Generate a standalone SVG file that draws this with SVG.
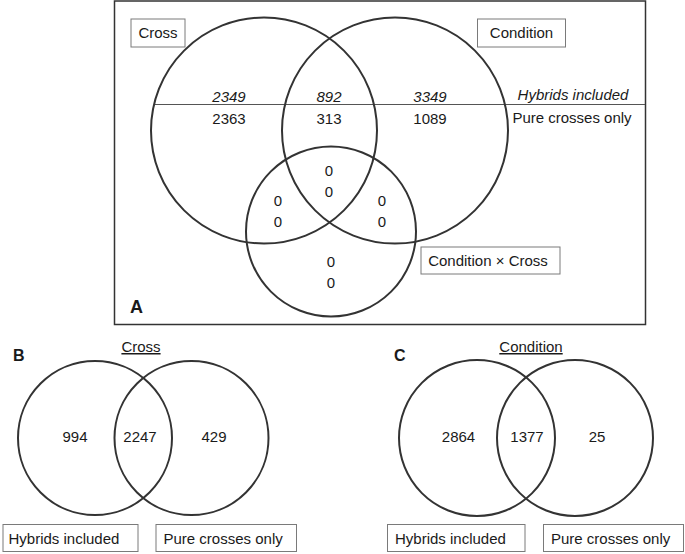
<svg xmlns="http://www.w3.org/2000/svg" width="685" height="554" viewBox="0 0 685 554">
<style>
text{font-family:"Liberation Sans",Arial,sans-serif;font-size:15px;fill:#1a1a1a}
.c{fill:none;stroke:#333;stroke-width:2}
.box{fill:#fff;stroke:#7a7a7a;stroke-width:1}
.m{text-anchor:middle}
.i{font-style:italic}
.lab{font-weight:bold;font-size:18px}
.lab2{font-weight:bold;font-size:16px}
.u{text-decoration:underline}
</style>
<rect width="685" height="554" fill="#fff"/>
<g id="panelA">
<rect x="114.5" y="1" width="531" height="323.5" fill="none" stroke="#333" stroke-width="1.5"/>
<g id="connectors">
<line x1="154" y1="104.5" x2="645" y2="104.5" stroke="#555" stroke-width="1"/>
</g>
<g id="circleCross"><circle class="c" cx="264" cy="130.5" r="113"/></g>
<g id="circleCondition"><circle class="c" cx="395" cy="130.5" r="113"/></g>
<g id="circleInteraction"><circle class="c" cx="331" cy="231.5" r="85"/></g>
<g id="labelCross"><rect class="box" x="131" y="19" width="54" height="28"/><text class="m" x="158" y="38">Cross</text></g>
<g id="labelCondition"><rect class="box" x="477.5" y="19" width="88" height="28"/><text class="m" x="521.5" y="38">Condition</text></g>
<g id="labelInteraction"><rect class="box" x="421" y="247" width="139" height="27"/><text class="m" x="488" y="266">Condition × Cross</text></g>
<g id="legendA">
<text class="m i" x="573" y="100">Hybrids included</text>
<text class="m" x="572" y="123">Pure crosses only</text>
</g>
<g id="countsA">
<text class="m i" x="229" y="102">2349</text>
<text class="m" x="229" y="123.5">2363</text>
<text class="m i" x="329" y="102">892</text>
<text class="m" x="329" y="123.5">313</text>
<text class="m i" x="430" y="102">3349</text>
<text class="m" x="430" y="123.5">1089</text>
<text class="m" x="329" y="176">0</text>
<text class="m" x="329" y="196.5">0</text>
<text class="m" x="278" y="206">0</text>
<text class="m" x="278" y="226.5">0</text>
<text class="m" x="382" y="206">0</text>
<text class="m" x="382" y="226.5">0</text>
<text class="m" x="331" y="267">0</text>
<text class="m" x="331" y="288">0</text>
</g>
<text class="lab" x="130" y="312.5">A</text>
</g>
<g id="panelB">
<text class="lab2" x="13" y="361">B</text>
<text class="m u" x="141" y="352">Cross</text>
<g id="circleB1"><circle class="c" cx="95" cy="438" r="77"/></g>
<g id="circleB2"><circle class="c" cx="191.5" cy="438" r="77"/></g>
<text class="m" x="75" y="442">994</text>
<text class="m" x="140" y="442">2247</text>
<text class="m" x="214" y="442">429</text>
<g id="boxB1"><rect class="box" x="3" y="524.5" width="135" height="27"/><text x="8.5" y="543.5">Hybrids included</text></g>
<g id="boxB2"><rect class="box" x="156" y="524.5" width="140.5" height="27"/><text x="163.5" y="543.5">Pure crosses only</text></g>
</g>
<g id="panelC">
<text class="lab2" x="394" y="361">C</text>
<text class="m u" x="531" y="352">Condition</text>
<g id="circleC1"><circle class="c" cx="477" cy="438" r="78"/></g>
<g id="circleC2"><circle class="c" cx="575" cy="438" r="78"/></g>
<text class="m" x="458.5" y="442">2864</text>
<text class="m" x="527" y="442">1377</text>
<text class="m" x="597" y="442">25</text>
<g id="boxC1"><rect class="box" x="387.5" y="524.5" width="137.5" height="27"/><text x="395" y="543.5">Hybrids included</text></g>
<g id="boxC2"><rect class="box" x="543.5" y="524.5" width="140" height="27"/><text x="551" y="543.5">Pure crosses only</text></g>
</g>
</svg>
